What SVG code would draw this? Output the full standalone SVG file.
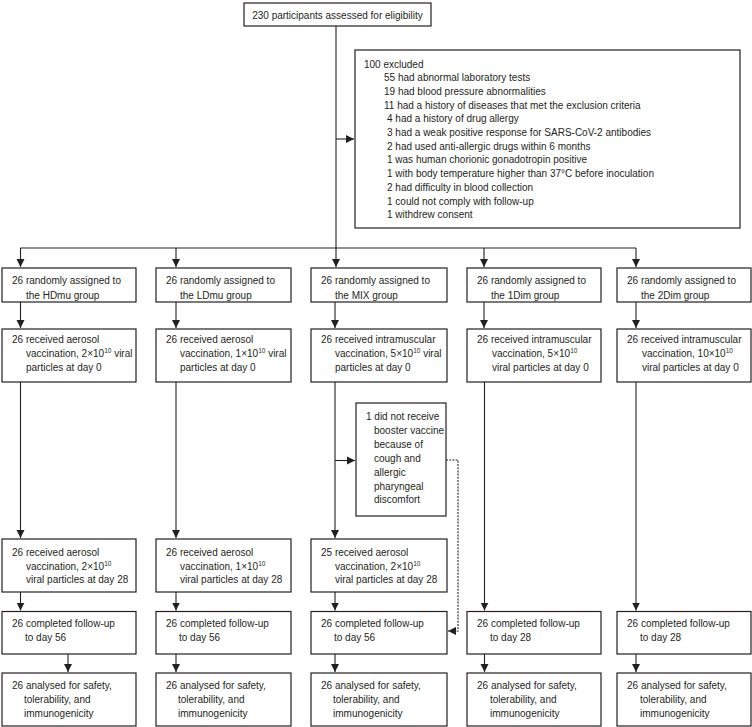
<svg xmlns="http://www.w3.org/2000/svg" width="752" height="727" viewBox="0 0 752 727">
<style>
.box{fill:#fff;stroke:#231f20;stroke-width:1.2}
text{font-family:"Liberation Sans",Arial,sans-serif;font-size:10px;fill:#231f20}
.sup{font-size:6.5px}
.ln{fill:none;stroke:#231f20;stroke-width:1.1}
.dash{fill:none;stroke:#231f20;stroke-width:1.1;stroke-dasharray:2,1.2}
</style>
<defs>
<marker id="ah" markerUnits="userSpaceOnUse" markerWidth="9" markerHeight="9" refX="8" refY="4.5" orient="auto">
<path d="M0,0.5 L8,4.5 L0,8.5 z" fill="#231f20"/>
</marker>
</defs>
<rect width="752" height="727" fill="#fff"/>
<g id="connectors">
<path class="ln" d="M336,26 V267" marker-end="url(#ah)"/>
<path class="ln" d="M20.5,248 H636"/>
<path class="ln" d="M20.5,248 V267" marker-end="url(#ah)"/>
<path class="ln" d="M176,248 V267" marker-end="url(#ah)"/>
<path class="ln" d="M484,248 V267" marker-end="url(#ah)"/>
<path class="ln" d="M636,248 V267" marker-end="url(#ah)"/>
<path class="ln" d="M336,139 H354" marker-end="url(#ah)"/>
<path class="ln" d="M20.5,302 V328" marker-end="url(#ah)"/>
<path class="ln" d="M176,302 V328" marker-end="url(#ah)"/>
<path class="ln" d="M335,302 V328" marker-end="url(#ah)"/>
<path class="ln" d="M484,302 V328" marker-end="url(#ah)"/>
<path class="ln" d="M636,302 V328" marker-end="url(#ah)"/>
<path class="ln" d="M20.5,382 V538" marker-end="url(#ah)"/>
<path class="ln" d="M176,382 V538" marker-end="url(#ah)"/>
<path class="ln" d="M335,382 V538" marker-end="url(#ah)"/>
<path class="ln" d="M335,460.5 H355" marker-end="url(#ah)"/>
<path class="dash" d="M446,460 H458 V631 H448" marker-end="url(#ah)"/>
<path class="ln" d="M484.5,382 V610.5" marker-end="url(#ah)"/>
<path class="ln" d="M636,382 V610.5" marker-end="url(#ah)"/>
<path class="ln" d="M20.5,592 V610.5" marker-end="url(#ah)"/>
<path class="ln" d="M176,592 V610.5" marker-end="url(#ah)"/>
<path class="ln" d="M335,592 V610.5" marker-end="url(#ah)"/>
<path class="ln" d="M68,654 V672" marker-end="url(#ah)"/>
<path class="ln" d="M176,654 V672" marker-end="url(#ah)"/>
<path class="ln" d="M335,654 V672" marker-end="url(#ah)"/>
<path class="ln" d="M484.5,654 V672" marker-end="url(#ah)"/>
<path class="ln" d="M636,654 V672" marker-end="url(#ah)"/>
</g>
<g id="assessed">
<rect class="box" x="244" y="3" width="187" height="23"/>
<text x="337.5" y="18.5" text-anchor="middle">230 participants assessed for eligibility</text>
</g>
<g id="excluded">
<rect class="box" x="355" y="50" width="385" height="178"/>
<text x="364" y="67.5">100 excluded</text>
<text x="384" y="81.2">55 had abnormal laboratory tests</text>
<text x="384" y="94.9">19 had blood pressure abnormalities</text>
<text x="384" y="108.6">11 had a history of diseases that met the exclusion criteria</text>
<text x="387" y="122.3">4 had a history of drug allergy</text>
<text x="387" y="136">3 had a weak positive response for SARS-CoV-2 antibodies</text>
<text x="387" y="149.7">2 had used anti-allergic drugs within 6 months</text>
<text x="387" y="163.4">1 was human chorionic gonadotropin positive</text>
<text x="387" y="177.1">1 with body temperature higher than 37°C before inoculation</text>
<text x="387" y="190.8">2 had difficulty in blood collection</text>
<text x="387" y="204.5">1 could not comply with follow-up</text>
<text x="387" y="218.2">1 withdrew consent</text>
</g>
<g id="hdmu-assigned">
<rect class="box" x="2" y="268" width="134" height="34"/>
<text x="12" y="284">26 randomly assigned to</text>
<text x="26" y="298.5">the HDmu group</text>
</g>
<g id="ldmu-assigned">
<rect class="box" x="156" y="268" width="135" height="34"/>
<text x="166" y="284">26 randomly assigned to</text>
<text x="180" y="298.5">the LDmu group</text>
</g>
<g id="mix-assigned">
<rect class="box" x="311" y="268" width="136" height="34"/>
<text x="321" y="284">26 randomly assigned to</text>
<text x="335" y="298.5">the MIX group</text>
</g>
<g id="1dim-assigned">
<rect class="box" x="467" y="268" width="134" height="34"/>
<text x="477" y="284">26 randomly assigned to</text>
<text x="491" y="298.5">the 1Dim group</text>
</g>
<g id="2dim-assigned">
<rect class="box" x="617" y="268" width="134" height="34"/>
<text x="627" y="284">26 randomly assigned to</text>
<text x="641" y="298.5">the 2Dim group</text>
</g>
<g id="hdmu-day0">
<rect class="box" x="2" y="329" width="134" height="53"/>
<text x="12" y="343">26 received aerosol</text>
<text x="26" y="357">vaccination, 2×10<tspan class="sup" dy="-4">10</tspan><tspan dy="4"> viral</tspan></text>
<text x="26" y="371">particles at day 0</text>
</g>
<g id="ldmu-day0">
<rect class="box" x="156" y="329" width="135" height="53"/>
<text x="166" y="343">26 received aerosol</text>
<text x="180" y="357">vaccination, 1×10<tspan class="sup" dy="-4">10</tspan><tspan dy="4"> viral</tspan></text>
<text x="180" y="371">particles at day 0</text>
</g>
<g id="mix-day0">
<rect class="box" x="311" y="329" width="136" height="53"/>
<text x="321" y="343">26 received intramuscular</text>
<text x="335" y="357">vaccination, 5×10<tspan class="sup" dy="-4">10</tspan><tspan dy="4"> viral</tspan></text>
<text x="335" y="371">particles at day 0</text>
</g>
<g id="1dim-day0">
<rect class="box" x="467" y="329" width="134" height="53"/>
<text x="477" y="343">26 received intramuscular</text>
<text x="492" y="357">vaccination, 5×10<tspan class="sup" dy="-4">10</tspan></text>
<text x="492" y="371">viral particles at day 0</text>
</g>
<g id="2dim-day0">
<rect class="box" x="617" y="329" width="134" height="53"/>
<text x="627" y="343">26 received intramuscular</text>
<text x="642" y="357">vaccination, 10×10<tspan class="sup" dy="-4">10</tspan></text>
<text x="642" y="371">viral particles at day 0</text>
</g>
<g id="mix-no-booster">
<rect class="box" x="356" y="403" width="90" height="113"/>
<text x="366" y="420">1 did not receive</text>
<text x="374" y="434">booster vaccine</text>
<text x="374" y="448">because of</text>
<text x="374" y="461.5">cough and</text>
<text x="374" y="475.5">allergic</text>
<text x="374" y="489.5">pharyngeal</text>
<text x="374" y="503">discomfort</text>
</g>
<g id="hdmu-day28">
<rect class="box" x="2" y="539" width="134" height="53"/>
<text x="12" y="556">26 received aerosol</text>
<text x="26" y="569.5">vaccination, 2×10<tspan class="sup" dy="-4">10</tspan></text>
<text x="26" y="583">viral particles at day 28</text>
</g>
<g id="ldmu-day28">
<rect class="box" x="156" y="539" width="135" height="53"/>
<text x="166" y="556">26 received aerosol</text>
<text x="180" y="569.5">vaccination, 1×10<tspan class="sup" dy="-4">10</tspan></text>
<text x="180" y="583">viral particles at day 28</text>
</g>
<g id="mix-day28">
<rect class="box" x="311" y="539" width="136" height="53"/>
<text x="321" y="556">25 received aerosol</text>
<text x="335" y="569.5">vaccination, 2×10<tspan class="sup" dy="-4">10</tspan></text>
<text x="335" y="583">viral particles at day 28</text>
</g>
<g id="hdmu-followup">
<rect class="box" x="2" y="611.5" width="134" height="42.5"/>
<text x="12" y="627">26 completed follow-up</text>
<text x="25" y="641">to day 56</text>
</g>
<g id="ldmu-followup">
<rect class="box" x="156" y="611.5" width="135" height="42.5"/>
<text x="166" y="627">26 completed follow-up</text>
<text x="179" y="641">to day 56</text>
</g>
<g id="mix-followup">
<rect class="box" x="311" y="611.5" width="136" height="42.5"/>
<text x="321" y="627">26 completed follow-up</text>
<text x="334" y="641">to day 56</text>
</g>
<g id="1dim-followup">
<rect class="box" x="467" y="611.5" width="134" height="42.5"/>
<text x="477" y="627">26 completed follow-up</text>
<text x="490" y="641">to day 28</text>
</g>
<g id="2dim-followup">
<rect class="box" x="617" y="611.5" width="134" height="42.5"/>
<text x="627" y="627">26 completed follow-up</text>
<text x="640" y="641">to day 28</text>
</g>
<g id="hdmu-analysed">
<rect class="box" x="2" y="673" width="134" height="53"/>
<text x="12" y="689">26 analysed for safety,</text>
<text x="24" y="703">tolerability, and</text>
<text x="24" y="717">immunogenicity</text>
</g>
<g id="ldmu-analysed">
<rect class="box" x="156" y="673" width="135" height="53"/>
<text x="166" y="689">26 analysed for safety,</text>
<text x="178" y="703">tolerability, and</text>
<text x="178" y="717">immunogenicity</text>
</g>
<g id="mix-analysed">
<rect class="box" x="311" y="673" width="136" height="53"/>
<text x="321" y="689">26 analysed for safety,</text>
<text x="333" y="703">tolerability, and</text>
<text x="333" y="717">immunogenicity</text>
</g>
<g id="1dim-analysed">
<rect class="box" x="467" y="673" width="134" height="53"/>
<text x="477" y="689">26 analysed for safety,</text>
<text x="490" y="703">tolerability, and</text>
<text x="490" y="717">immunogenicity</text>
</g>
<g id="2dim-analysed">
<rect class="box" x="617" y="673" width="134" height="53"/>
<text x="627" y="689">26 analysed for safety,</text>
<text x="640" y="703">tolerability, and</text>
<text x="640" y="717">immunogenicity</text>
</g>
</svg>
